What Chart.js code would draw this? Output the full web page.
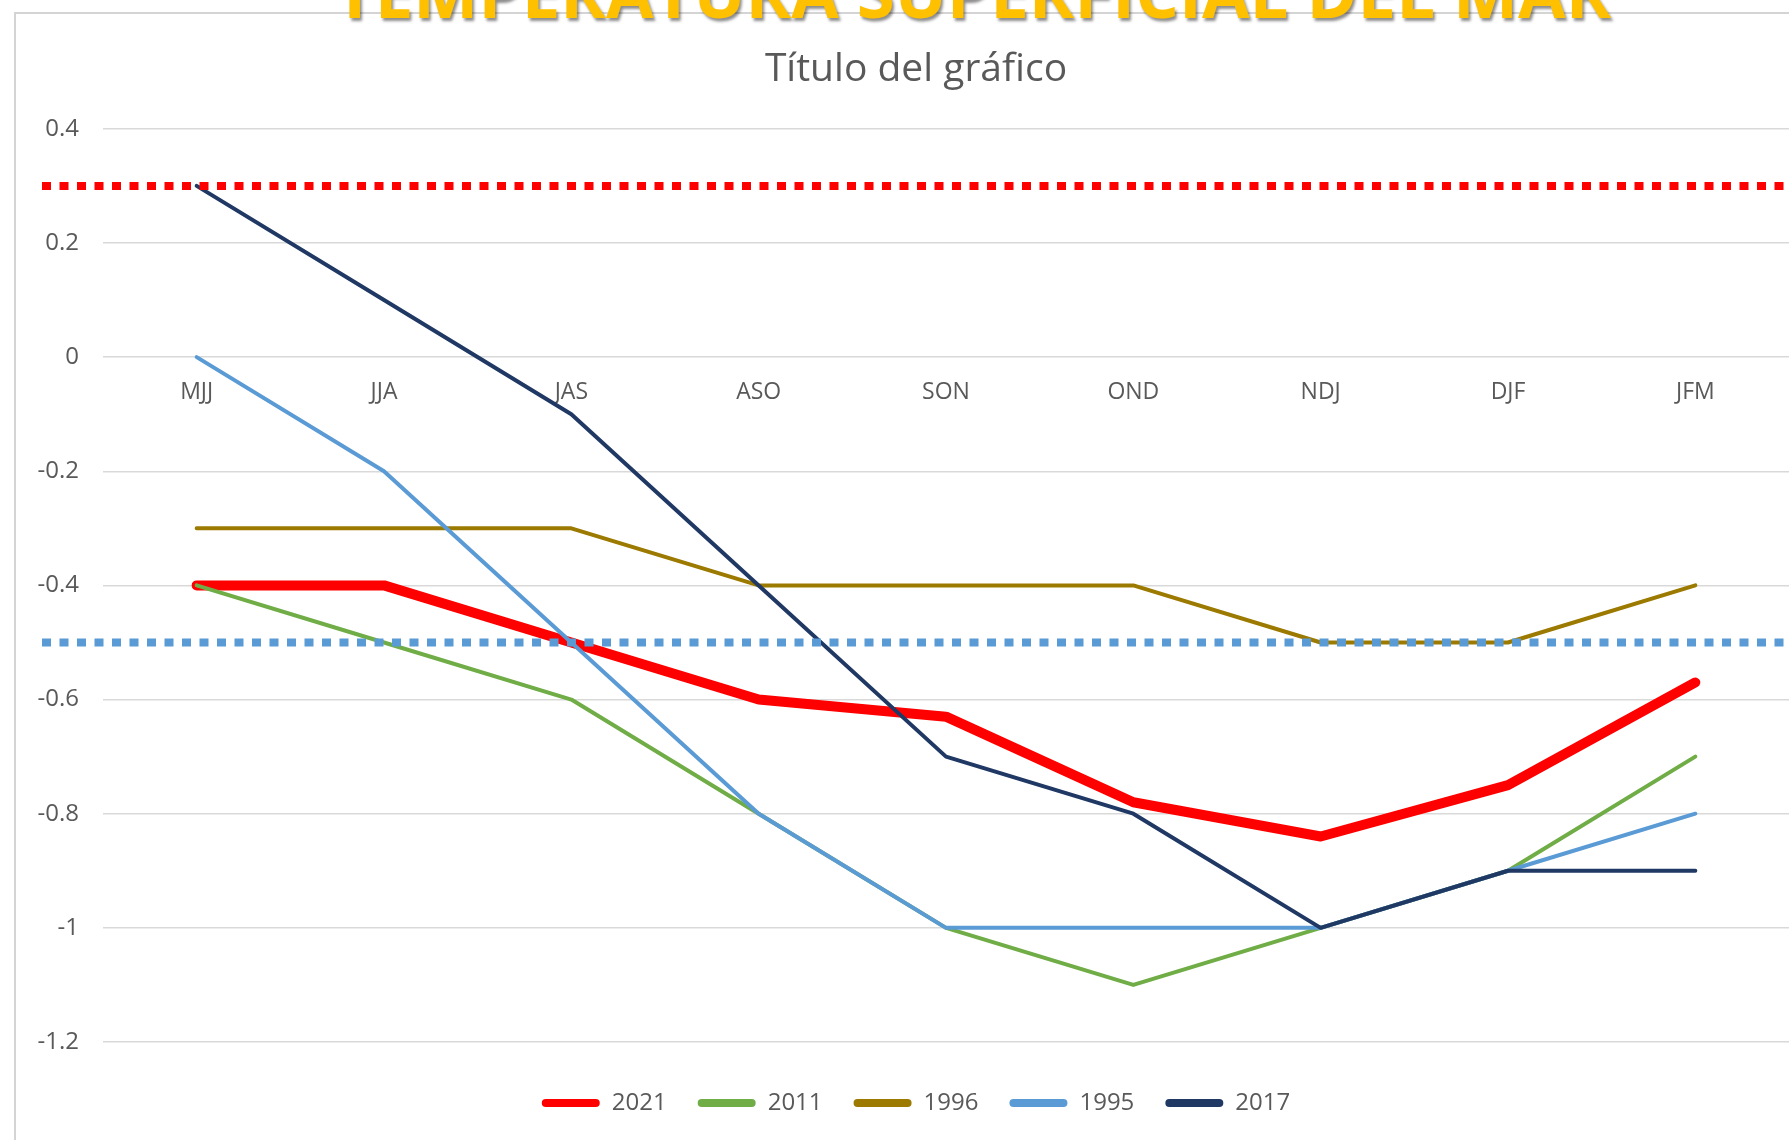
<!DOCTYPE html>
<html lang="es">
<head>
<meta charset="utf-8">
<title>Temperatura superficial del mar</title>
<script src="https://cdn.jsdelivr.net/npm/chart.js@4.4.1/dist/chart.umd.min.js"></script>
<style>
  html, body { margin: 0; padding: 0; background: #fff; overflow: hidden; }
  body { width: 1789px; height: 1140px; position: relative; }
  #frame {
    position: absolute; left: 14px; top: 12px; width: 1800px; height: 1200px;
    border-left: 2px solid #d4d4d4; border-top: 2px solid #d4d4d4;
  }
  #bigTitle {
    position: absolute; left: 0; top: -43px; width: 1946px; text-align: center;
    font-family: "Open Sans", sans-serif; font-weight: 700; font-size: 69px; line-height: 69px;
    color: #FFC000; text-shadow: 2px 3px 3px rgba(0, 0, 0, 0.45); white-space: nowrap;
  }
  #wrap { position: absolute; left: 0; top: 0; width: 1807px; height: 1140px; }
</style>
</head>
<body>
<div id="frame"></div>
<div id="wrap"><canvas id="sstChart"></canvas></div>
<div id="bigTitle">TEMPERATURA SUPERFICIAL DEL MAR</div>
<script>
// trimestres móviles
const categories = ['MJJ', 'JJA', 'JAS', 'ASO', 'SON', 'OND', 'NDJ', 'DJF', 'JFM'];

// anomalías por año
const v2021 = [-0.4, -0.4, -0.5, -0.6, -0.63, -0.78, -0.84, -0.75, -0.57];
const v2011 = [-0.4, -0.5, -0.6, -0.8, -1.0, -1.1, -1.0, -0.9, -0.7];
const v1996 = [-0.3, -0.3, -0.3, -0.4, -0.4, -0.4, -0.5, -0.5, -0.4];
const v1995 = [0, -0.2, -0.5, -0.8, -1.0, -1.0, -1.0, -0.9, -0.8];
const v2017 = [0.3, 0.1, -0.1, -0.4, -0.7, -0.8, -1.0, -0.9, -0.9];

// umbrales punteados
const thresholds = [0.3, -0.5];
const thresholdColors = ['#FF0000', '#5B9BD5'];

const yMin = -1.2;
const yMax = 0.4;
const yStep = 0.2;

const gray = '#595959';

const seriesList = [
  { label: '2021', data: v2021, color: '#FF0000', width: 10 },
  { label: '2011', data: v2011, color: '#70AD47', width: 4 },
  { label: '1996', data: v1996, color: '#9C7A00', width: 4 },
  { label: '1995', data: v1995, color: '#5B9BD5', width: 4 },
  { label: '2017', data: v2017, color: '#203864', width: 4 }
];

// draw the dotted threshold lines across the whole chart width
const refLines = {
  id: 'refLines',
  afterDatasetsDraw(chart) {
    const { ctx, scales: { y } } = chart;
    ctx.save();
    thresholds.forEach((v, i) => {
      const yy = y.getPixelForValue(v);
      ctx.strokeStyle = thresholdColors[i];
      ctx.lineWidth = 8;
      ctx.lineCap = 'butt';
      ctx.setLineDash([9, 8.5]);
      ctx.beginPath();
      ctx.moveTo(42, yy);
      ctx.lineTo(chart.width, yy);
      ctx.stroke();
    });
    ctx.restore();
  }
};

const ctx = document.getElementById('sstChart').getContext('2d');

const chart = new Chart(ctx, {
  type: 'line',
  data: {
    labels: categories,
    datasets: seriesList.map((s, i) => ({
      label: s.label,
      data: s.data,
      borderColor: s.color,
      backgroundColor: s.color,
      borderWidth: s.width,
      pointRadius: 0,
      pointHoverRadius: 0,
      tension: 0,
      fill: false,
      borderJoinStyle: 'round',
      borderCapStyle: 'round',
      order: seriesList.length - i
    }))
  },
  options: {
    responsive: true,
    maintainAspectRatio: false,
    animation: false,
    layout: { padding: { left: 25, right: 0, top: 12, bottom: 15 } },
    plugins: {
      title: {
        display: true,
        text: 'Título del gráfico',
        color: gray,
        font: { family: 'Open Sans', size: 39, weight: 'normal', lineHeight: 1.2 },
        padding: { top: 34, bottom: 36 }
      },
      legend: {
        position: 'bottom',
        title: { display: true, text: '', padding: 0, font: { size: 15, lineHeight: 1.2 } },
        labels: {
          color: gray,
          font: { family: 'Open Sans', size: 24 },
          boxWidth: 58,
          boxHeight: 8,
          padding: 31,
          useBorderRadius: true,
          borderRadius: 4,
          sort: (a, b) => a.datasetIndex - b.datasetIndex,
          generateLabels(c) {
            const items = Chart.defaults.plugins.legend.labels.generateLabels(c);
            items.forEach(it => { it.lineWidth = 0; it.fillStyle = it.strokeStyle; });
            return items;
          }
        }
      },
      tooltip: { enabled: false }
    },
    scales: {
      x: {
        type: 'category',
        position: { y: 0 },
        offset: true,
        grid: { display: false, drawTicks: false },
        border: { display: false },
        ticks: {
          color: gray,
          font: { family: 'Open Sans', size: 23 },
          padding: 22,
          maxRotation: 0,
          autoSkip: false
        }
      },
      y: {
        min: yMin,
        max: yMax,
        grid: { color: '#d9d9d9', lineWidth: 1.5, drawTicks: false },
        border: { display: false },
        ticks: {
          stepSize: yStep,
          color: gray,
          font: { family: 'Open Sans', size: 24 },
          padding: 24,
          callback: v => String(Number(v.toFixed(1)))
        },
        afterFit(scale) { scale.width = 78; }
      },
      // empty right-hand spacer, the chart box runs past the window edge
      ySpace: {
        position: 'right',
        min: yMin,
        max: yMax,
        grid: { display: false, drawTicks: false },
        border: { display: false },
        ticks: { display: false },
        afterFit(scale) { scale.width = 18; }
      }
    }
  },
  plugins: [refLines]
});
</script>
</body>
</html>
